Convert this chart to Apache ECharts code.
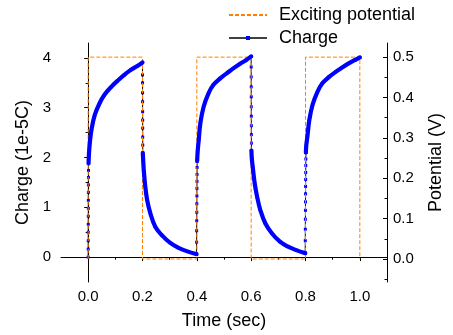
<!DOCTYPE html>
<html>
<head>
<meta charset="utf-8">
<script src="https://cdn.jsdelivr.net/npm/echarts@6/dist/echarts.min.js"></script>
<style>
  html, body { margin: 0; padding: 0; background: #fff; }
  #chart { width: 453px; height: 335px; }
</style>
</head>
<body>
<div id="chart"></div>
<script>
// exciting potential (square wave), right axis
const potentialT = [0, 0, 0.2, 0.2, 0.4, 0.4, 0.6, 0.6, 0.8, 0.8, 1.0, 1.0];
const potentialV = [0, 0.5, 0.5, 0, 0, 0.5, 0.5, 0, 0, 0.5, 0.5, 0];

// charge, left axis: fast jumps + slow curves, [t, q]
const jumpUp1 = [[0, 0], [0.0001, 0.16], [0.0002, 0.33], [0.0003, 0.50], [0.0004, 0.66], [0.0005, 0.82], [0.0006, 0.98], [0.0007, 1.14], [0.0008, 1.30], [0.0009, 1.45], [0.001, 1.60], [0.0012, 1.74], [0.0014, 1.88]];
const curve1 = [[0.0014, 1.88], [0.003, 2.08], [0.006, 2.29], [0.012, 2.55], [0.024, 2.85], [0.042, 3.09], [0.060, 3.26], [0.085, 3.42], [0.108, 3.54], [0.133, 3.66], [0.157, 3.76], [0.181, 3.84], [0.2, 3.91]];
const jumpDown1 = [[0.2, 3.91], [0.2001, 3.66], [0.2002, 3.50], [0.2003, 3.30], [0.2004, 3.12], [0.2005, 2.92], [0.2006, 2.75], [0.2007, 2.59], [0.2008, 2.41], [0.2009, 2.25], [0.201, 2.09]];
const curve2 = [[0.201, 2.09], [0.2025, 1.95], [0.204, 1.80], [0.209, 1.48], [0.217, 1.15], [0.229, 0.88], [0.247, 0.61], [0.271, 0.44], [0.301, 0.29], [0.331, 0.19], [0.368, 0.11], [0.399, 0.06]];
const jumpUp2 = [[0.399, 0.06], [0.3992, 0.30], [0.3994, 0.53], [0.3996, 0.73], [0.3998, 0.90], [0.4, 1.07], [0.4002, 1.23], [0.4004, 1.38], [0.4006, 1.52], [0.4008, 1.66], [0.401, 1.80], [0.4012, 1.93]];
const curve3 = [[0.4012, 1.93], [0.403, 2.12], [0.407, 2.35], [0.413, 2.69], [0.425, 3.02], [0.443, 3.29], [0.461, 3.46], [0.486, 3.59], [0.510, 3.69], [0.534, 3.79], [0.558, 3.88], [0.582, 3.96], [0.6, 4.03]];
const jumpDown2 = [[0.6, 4.03], [0.6001, 3.82], [0.6002, 3.62], [0.6003, 3.42], [0.6004, 3.22], [0.6005, 3.02], [0.6006, 2.83], [0.6007, 2.64], [0.6008, 2.46], [0.6009, 2.29], [0.601, 2.14]];
const curve4 = [[0.601, 2.14], [0.6025, 1.97], [0.606, 1.80], [0.613, 1.48], [0.622, 1.21], [0.634, 0.94], [0.652, 0.68], [0.676, 0.48], [0.706, 0.31], [0.736, 0.21], [0.766, 0.14], [0.799, 0.08]];
const jumpUp3 = [[0.799, 0.08], [0.7992, 0.33], [0.7994, 0.56], [0.7996, 0.76], [0.7998, 0.94], [0.8, 1.11], [0.8002, 1.27], [0.8004, 1.42], [0.8006, 1.56], [0.8008, 1.70], [0.801, 1.84], [0.8012, 1.97], [0.8014, 2.10]];
const curve5 = [[0.8014, 2.10], [0.803, 2.25], [0.807, 2.42], [0.814, 2.75], [0.826, 3.06], [0.844, 3.32], [0.862, 3.49], [0.887, 3.62], [0.911, 3.72], [0.935, 3.81], [0.959, 3.89], [0.983, 3.96], [1.0, 4.01]];

// ticks
const xMajor = [0, 0.2, 0.4, 0.6, 0.8, 1.0];
const xMinor = [0.1, 0.3, 0.5, 0.7, 0.9];
const leftMajor = [0, 1, 2, 3, 4];
const leftMinor = [0.5, 1.5, 2.5, 3.5];
const rightMajor = [0, 0.1, 0.2, 0.3, 0.4, 0.5];
const rightMinor = [-0.05, 0.05, 0.15, 0.25, 0.35, 0.45];

const FONT = "'Liberation Sans', Arial, sans-serif";
const BLUE = '#0000ff';
const ORANGE = '#ff8000';

const chart = echarts.init(document.getElementById('chart'));

const axisLine = { show: true, lineStyle: { color: '#000', width: 1 } };
const labelStyle = { color: '#000', fontSize: 15, fontFamily: FONT };
const nameStyle = { color: '#000', fontSize: 18, fontFamily: FONT };

function minorAxis(min, max, position, values, inside) {
    return {
        type: 'value', min: min, max: max, position: position,
        axisLine: { show: false },
        axisLabel: { show: false },
        splitLine: { show: false },
        axisTick: { show: true, inside: !!inside, length: 2.5, customValues: values, lineStyle: { color: '#000' } }
    };
}

const chargeData = [].concat(jumpUp1, curve1, jumpDown1, curve2, jumpUp2, curve3, jumpDown2, curve4, jumpUp3, curve5);
const potentialData = potentialT.map((t, i) => [t, potentialV[i]]);

const option = {
    animation: false,
    grid: { left: 61, right: 60, top: 43, bottom: 53, containLabel: false },
    legend: {
        orient: 'vertical',
        left: 228,
        top: 6,
        padding: 0,
        itemWidth: 38,
        itemHeight: 5,
        itemGap: 5,
        textStyle: { color: '#000', fontSize: 18, fontFamily: FONT, lineHeight: 18, padding: [0, 0, 0, 7] },
        data: [
            { name: 'Exciting potential', itemStyle: { opacity: 0 } },
            { name: 'Charge', lineStyle: { width: 1.5, color: '#000' } }
        ]
    },
    xAxis: [
        {
            type: 'value', min: -0.1, max: 1.1, position: 'bottom',
            name: 'Time (sec)', nameLocation: 'middle', nameGap: 30, nameTextStyle: nameStyle,
            axisLine: axisLine,
            splitLine: { show: false },
            axisTick: { show: true, length: 4, customValues: xMajor, lineStyle: { color: '#000' } },
            axisLabel: Object.assign({ margin: 7, customValues: xMajor, formatter: v => v.toFixed(1) }, labelStyle)
        },
        minorAxis(-0.1, 1.1, 'bottom', xMinor)
    ],
    yAxis: [
        {
            type: 'value', min: -0.5, max: 4.3, position: 'left',
            name: 'Charge (1e-5C)', nameLocation: 'middle', nameGap: 28, nameTextStyle: nameStyle,
            axisLine: axisLine,
            splitLine: { show: false },
            axisTick: { show: true, length: 4, customValues: leftMajor, lineStyle: { color: '#000' } },
            axisLabel: Object.assign({ margin: 10, customValues: leftMajor, formatter: v => String(Math.round(v)) }, labelStyle)
        },
        minorAxis(-0.5, 4.3, 'left', leftMinor),
        {
            type: 'value', min: -0.057, max: 0.535, position: 'right',
            name: 'Potential (V)', nameLocation: 'middle', nameGap: 40, nameTextStyle: nameStyle,
            axisLine: axisLine,
            splitLine: { show: false },
            axisTick: { show: true, inside: true, length: 4, customValues: rightMajor, lineStyle: { color: '#000' } },
            axisLabel: Object.assign({ margin: 6, customValues: rightMajor, formatter: v => v.toFixed(1) }, labelStyle)
        },
        minorAxis(-0.057, 0.535, 'right', rightMinor, true)
    ],
    series: [
        {
            name: 'Exciting potential', type: 'line', xAxisIndex: 0, yAxisIndex: 2,
            data: potentialData, symbol: 'none', z: 3,
            lineStyle: { color: ORANGE, width: 1, type: [4, 2] },
            itemStyle: { color: ORANGE }
        },
        {
            name: 'Charge', type: 'line', xAxisIndex: 0, yAxisIndex: 0,
            data: chargeData, symbol: 'rect', symbolSize: 3, z: 2,
            lineStyle: { color: '#000', width: 1 },
            itemStyle: { color: BLUE }
        }
    ].concat([curve1, curve2, curve3, curve4, curve5].map(c => ({
        type: 'line', xAxisIndex: 0, yAxisIndex: 0,
        data: c, symbol: 'none', smooth: 0.4, z: 4,
        lineStyle: { color: BLUE, width: 4.2, cap: 'round', join: 'round' }
    })))
};

chart.setOption(option);
</script>
</body>
</html>
